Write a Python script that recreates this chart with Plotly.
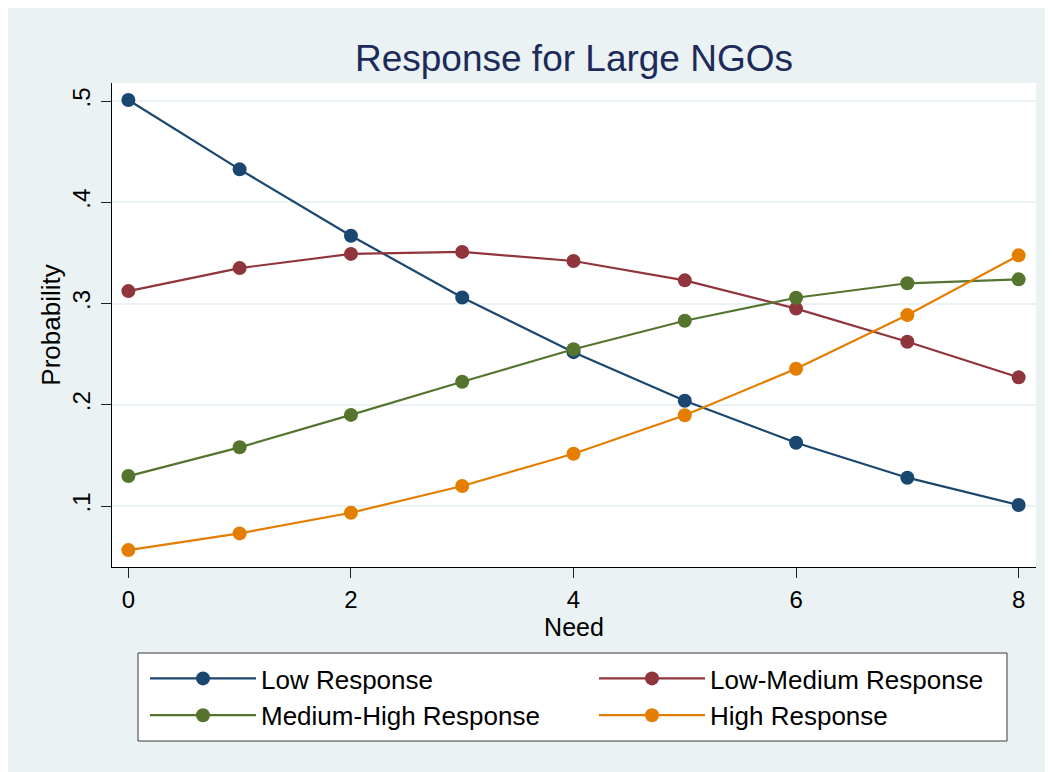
import plotly.graph_objects as go

# ---- data ----
need = [0, 1, 2, 3, 4, 5, 6, 7, 8]
low_response = [0.501, 0.4325, 0.367, 0.306, 0.252, 0.204, 0.1625, 0.128, 0.101]
low_medium_response = [0.3123, 0.335, 0.349, 0.351, 0.342, 0.3229, 0.295, 0.2623, 0.2271]
medium_high_response = [0.1296, 0.158, 0.190, 0.2228, 0.2548, 0.283, 0.3057, 0.320, 0.3239]
high_response = [0.0565, 0.073, 0.0934, 0.1198, 0.1517, 0.1896, 0.2356, 0.2886, 0.3476]

series_names = ["Low Response", "Low-Medium Response", "Medium-High Response", "High Response"]
series_values = [low_response, low_medium_response, medium_high_response, high_response]
series_colors = ["#1a476f", "#90353b", "#55752f", "#e37e00"]

y_tick_values = [0.1, 0.2, 0.3, 0.4, 0.5]
y_tick_labels = [".1", ".2", ".3", ".4", ".5"]
x_tick_values = [0, 2, 4, 6, 8]
x_tick_labels = ["0", "2", "4", "6", "8"]

FONT = "Liberation Sans, Arial, sans-serif"
BG = "#EAF2F3"

fig = go.Figure()
for name, vals, col in zip(series_names, series_values, series_colors):
    fig.add_trace(go.Scatter(
        x=need, y=vals, name=name, mode="lines+markers",
        line=dict(color=col, width=2.2),
        marker=dict(color=col, size=14),
    ))

W, H = 1053, 772
ml, mr, mt, mb = 104, 25, 75, 213
pw = W - ml - mr
ph = H - mt - mb
bottom = mt + ph  # pixel y of x axis

ITEM_W = 106
COL_STEP = 444


def px_x(px):
    return (px - ml) / pw


def px_y(py):
    return (bottom - py) / ph


fig.update_layout(
    width=W, height=H, autosize=False,
    margin=dict(l=ml, r=mr, t=mt, b=mb, pad=0),
    paper_bgcolor=BG, plot_bgcolor="white",
    font=dict(family=FONT, color="black", size=25),
    title=dict(text="Response for Large NGOs", x=0.5, xref="paper", xanchor="center",
               y=1 - 50 / H, yref="container", yanchor="middle",
               font=dict(family=FONT, size=37, color="#1c2b5a")),
    showlegend=True,
    legend=dict(
        orientation="h", x=px_x(137), xanchor="left",
        y=px_y(647), yanchor="top",
        bgcolor="rgba(0,0,0,0)", borderwidth=0,
        font=dict(family=FONT, size=26, color="black"),
        entrywidth=COL_STEP - ITEM_W - 10, entrywidthmode="pixels",
        itemwidth=ITEM_W,
        traceorder="normal",
    ),
)

fig.update_xaxes(
    range=[-0.147, 8.156], tickvals=x_tick_values, ticktext=x_tick_labels,
    ticks="outside", ticklen=10, tickwidth=1, tickcolor="#222",
    ticklabelstandoff=1,
    showline=True, linecolor="black", linewidth=1,
    showgrid=False, zeroline=False,
    tickfont=dict(family=FONT, size=24, color="black"),
    title=dict(text="Need", font=dict(family=FONT, size=25, color="black"), standoff=0),
)
fig.update_yaxes(
    range=[0.0398, 0.5178], tickvals=y_tick_values, ticktext=y_tick_labels,
    tickangle=-90,
    ticks="outside", ticklen=10, tickwidth=1, tickcolor="#222",
    ticklabelstandoff=1,
    showline=True, linecolor="black", linewidth=1,
    showgrid=True, gridcolor=BG, gridwidth=2, zeroline=False,
    tickfont=dict(family=FONT, size=24, color="black"),
    title=dict(text="Probability", font=dict(family=FONT, size=26, color="black"), standoff=0),
)

# legend frame (white box with dark border)
fig.add_shape(type="rect", xref="paper", yref="paper",
              x0=px_x(130), x1=px_x(999), y0=px_y(733), y1=px_y(645),
              fillcolor="white", line=dict(color="#3a3a3a", width=1), layer="below")

fig.write_html("out.html")
